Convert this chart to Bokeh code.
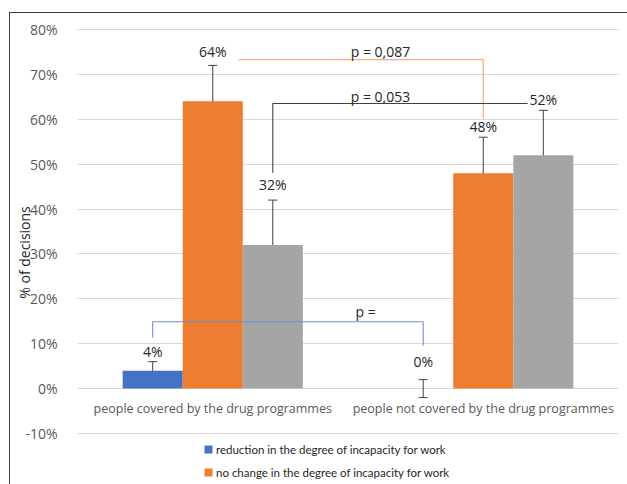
from bokeh.plotting import figure
from bokeh.models import (ColumnDataSource, FactorRange, Range1d, Whisker, TeeHead, Legend,
                          LegendItem, FixedTicker, InlineStyleSheet)
from bokeh.transform import dodge
from bokeh.core.properties import value
from bokeh.embed import file_html
from bokeh.resources import INLINE

# --- data -----------------------------------------------------------------
groups = ["people covered by the drug programmes",
          "people not covered by the drug programmes"]
series = ["reduction in the degree of incapacity for work",
          "no change in the degree of incapacity for work",
          "increase in the degree of incapacity for work"]
reduction = [4, 0]
no_change = [64, 48]
increase = [32, 52]
reduction_err = [2, 2]
no_change_err = [8, 8]
increase_err = [10, 10]
y_ticks = [-10, 0, 10, 20, 30, 40, 50, 60, 70, 80]
p_texts = ["p = 0,087", "p = 0,053", "p ="]

# --- styling --------------------------------------------------------------
FONT = "Open Sans"
colors = ["#4472C4", "#ED7D31", "#A5A5A5"]
bar_w = 0.222
offsets = [-bar_w, 0.0, bar_w]
PX = 4.489  # pixels per percentage point
# distance between the top of each error bar and its value label
label_gap = [[2.2, 4.0], [3.0, 2.4], [3.4, 2.4]]

p = figure(width=627, height=484, x_range=FactorRange(*groups),
           y_range=Range1d(-10 - 51 / PX, 80 + 9 / PX),
           output_backend="svg", toolbar_location=None,
           min_border_left=77, min_border_right=9, min_border_top=20,
           min_border_bottom=0)
p.outline_line_color = None
p.background_fill_color = "white"
p.border_fill_color = "white"

# thin dark frame around the whole chart (left and top edges visible)
p.stylesheets = [InlineStyleSheet(css="""
:host { position: relative; }
:host::after {
  content: ""; position: absolute; left: 9px; top: 12px;
  width: 618px; height: 472px; box-sizing: border-box;
  border-left: 1.5px solid #3a3a3a; border-top: 1.5px solid #3a3a3a;
  pointer-events: none;
}
""")]

p.xaxis.visible = False
p.xgrid.grid_line_color = None
p.ygrid.ticker = FixedTicker(ticks=y_ticks)
p.ygrid.grid_line_color = "#D9D9D9"
p.ygrid.grid_line_width = 1

ax = p.yaxis[0]
ax.ticker = FixedTicker(ticks=y_ticks)
ax.major_label_overrides = {t: f"{t}%" for t in y_ticks}
ax.axis_line_color = None
ax.major_tick_line_color = None
ax.minor_tick_line_color = None
ax.major_label_standoff = 14
ax.major_label_text_font = FONT
ax.major_label_text_font_size = "14px"
ax.major_label_text_color = "#595959"
ax.axis_label = "% of decisions"
ax.axis_label_text_font = FONT
ax.axis_label_text_font_size = "14px"
ax.axis_label_text_font_style = "normal"
ax.axis_label_text_color = "#262626"
ax.axis_label_standoff = -12

values = [reduction, no_change, increase]
errors = [reduction_err, no_change_err, increase_err]
legend_items = []
for i, (vals, errs) in enumerate(zip(values, errors)):
    src = ColumnDataSource(dict(
        group=groups,
        val=vals,
        upper=[v + e for v, e in zip(vals, errs)],
        lower=[v - e for v, e in zip(vals, errs)],
        label_y=[v + e + g for v, e, g in zip(vals, errs, label_gap[i])],
        label=[f"{v}%" for v in vals],
    ))
    xpos = dodge("group", offsets[i], range=p.x_range)
    r = p.vbar(x=xpos, top="val", bottom=0, width=bar_w, source=src,
               fill_color=colors[i], line_color=None)
    legend_items.append(LegendItem(label=series[i], renderers=[r]))
    wh = Whisker(base=xpos, upper="upper", lower="lower", source=src,
                 line_color="#404040", line_width=1,
                 upper_head=TeeHead(size=9, line_color="#404040", line_width=1),
                 lower_head=TeeHead(size=9, line_color="#404040", line_width=1))
    p.add_layout(wh)
    p.text(x=xpos, y="label_y", text="label", source=src,
           text_align="center", text_baseline="middle",
           text_font=value(FONT), text_font_size="14px", text_color="#262626")

# category labels sit just under the zero line
p.text(x=groups, y=[-4.45, -4.45], text=groups, text_align="center",
       text_baseline="middle", text_font=value(FONT), text_font_size="12.5px",
       text_color="#595959")

# significance brackets
g0, g1 = groups
p.line(x=[(g0, 0.095), (g1, 0.0), (g1, 0.0)], y=[73.3, 73.3, 60.1],
       line_color="#F4B183", line_width=1.3)
p.line(x=[(g0, bar_w), (g0, bar_w), (g1, 0.164)], y=[48.1, 63.5, 63.5],
       line_color="#404040", line_width=1.1)
p.line(x=[(g0, -bar_w), (g0, -bar_w), (g1, -bar_w), (g1, -bar_w)],
       y=[11.4, 14.9, 14.9, 9.6], line_color="#6F8FD8", line_width=1.1)
p.text(x=[(g0, 0.62), (g0, 0.62), (g1, -0.435)], y=[75.1, 65.0, 17.1],
       text=p_texts, text_align="center", text_baseline="middle",
       text_font=value(FONT), text_font_size="14px", text_color="#262626")

legend = Legend(items=legend_items, location=(126, -21), orientation="vertical",
                border_line_color=None, background_fill_alpha=0, padding=0,
                margin=0, spacing=3, glyph_width=10, glyph_height=10,
                label_height=20, label_standoff=3,
                label_text_font="Lato",
                label_text_font_size="11.5px", label_text_color="#262626")
p.add_layout(legend, "center")

open("out.html", "w").write(file_html(p, INLINE))
